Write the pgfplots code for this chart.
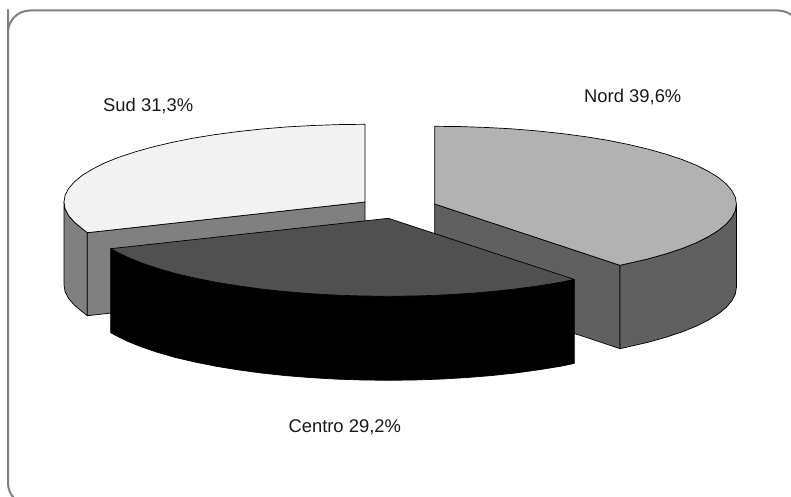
\documentclass[border=0pt]{standalone}
\usepackage{pgfplots}
\pgfplotsset{compat=1.18}
\usepackage{fontspec}
\setmainfont{Liberation Sans}
\definecolor{sudtop}{HTML}{F2F2F2}
\definecolor{sudwall}{HTML}{808080}
\definecolor{nordtop}{HTML}{B2B2B2}
\definecolor{nordwall}{HTML}{606060}
\definecolor{centrotop}{HTML}{505050}
\tikzset{lab/.style={anchor=base west, inner sep=0pt, font=\fontsize{18.4}{20}\selectfont, text=black!90}}
\begin{document}
\begin{tikzpicture}
\begin{axis}[
  width=791pt, height=497pt, scale only axis,
  xmin=0, xmax=791, ymin=0, ymax=497, y dir=reverse,
  hide axis, clip=true,
  every axis plot/.append style={mark=none, line width=0.7pt, line join=round}
]
% frame, runs off the right and bottom edges
\addplot[draw=sudwall, line width=2pt, rounded corners=22pt] coordinates {
  (8,32) (8,505) (800,505) (800,10.5) (8,10.5)
} -- cycle;

% Sud
\addplot[fill=sudwall, draw=black] coordinates {
  (64,202) (64,285) (65.1,291.8) (68.6,298.5) (74.3,305.1) (82.1,311.6) (87.3,315.7)
  (87.3,232.7) (82.1,228.6) (74.3,222.1) (68.6,215.5) (65.1,208.8)
} -- cycle;
\addplot[fill=sudwall, draw=black] coordinates {
  (87.3,232.7) (365,202) (365,285) (87.3,315.7)
} -- cycle;
\addplot[fill=sudtop, draw=black] coordinates {
  (365,124.3) (338.8,124.6) (312.7,125.5) (287.1,126.9) (262.1,129) (237.8,131.6)
  (214.5,134.7) (192.3,138.3) (171.5,142.5) (152.2,147.1) (134.4,152.1) (118.4,157.4)
  (104.3,163.1) (92.2,169.2) (82.1,175.4) (74.3,181.9) (68.6,188.5) (65.1,195.2) (64,202)
  (65.1,208.8) (68.6,215.5) (74.3,222.1) (82.1,228.6) (87.3,232.7) (365,202)
} -- cycle;

% Nord
\addplot[fill=nordwall, draw=black] coordinates {
  (434.7,204) (620,265.3) (620,348.7) (434.7,287)
} -- cycle;
\addplot[fill=nordwall, draw=black] coordinates {
  (620,265.3) (648,258.9) (665.8,253.9) (681.8,248.6) (696,242.9) (708.1,236.8) (718.2,230.6)
  (726.1,224.1) (731.8,217.5) (735.3,210.8) (736.4,204)
  (736.4,287.4) (735.3,294.2) (731.8,300.9) (726.1,307.5) (718.2,314) (708.1,320.2) (696,326.3)
  (681.8,332) (665.8,337.3) (648,342.3) (620,348.7)
} -- cycle;
\addplot[fill=nordtop, draw=black] coordinates {
  (434.7,126.3) (461,126.6) (487.1,127.5) (512.8,128.9) (537.9,131) (562.2,133.6) (585.6,136.7)
  (607.8,140.3) (628.6,144.5) (648,149.1) (665.8,154.1) (681.8,159.4) (696,165.1) (708.1,171.2)
  (718.2,177.4) (726.1,183.9) (731.8,190.5) (735.3,197.2) (736.4,204) (735.3,210.8) (731.8,217.5)
  (726.1,224.1) (718.2,230.6) (708.1,236.8) (696,242.9) (681.8,248.6) (665.8,253.9) (648,258.9)
  (620,265.3) (434.7,204)
} -- cycle;

% Centro
\addplot[fill=black, draw=black] coordinates {
  (110.7,248.7) (115.5,251.3) (127.6,257.3) (141.7,263) (157.7,268.4) (175.5,273.5) (194.8,278)
  (215.6,282.2) (237.8,285.8) (261.1,289) (285.4,291.6) (310.4,293.6) (336,295.1) (362.1,296)
  (388.3,296.3) (414.5,296) (440.6,295.1) (466.2,293.6) (491.2,291.6) (515.5,289) (538.8,285.8)
  (561,282.2) (574.3,279.4)
  (574.3,363.4) (561,366.2) (538.8,369.8) (515.5,373) (491.2,375.6) (466.2,377.6) (440.6,379.1)
  (414.5,380) (388.3,380.3) (362.1,380) (336,379.1) (310.4,377.6) (285.4,375.6) (261.1,373)
  (237.8,369.8) (215.6,366.2) (194.8,362) (175.5,357.5) (157.7,352.4) (141.7,347) (127.6,341.3)
  (115.5,335.3) (110.7,332.7)
} -- cycle;
\addplot[fill=centrotop, draw=black] coordinates {
  (388.3,218.3) (574.3,279.4) (561,282.2) (538.8,285.8) (515.5,289) (491.2,291.6) (466.2,293.6)
  (440.6,295.1) (414.5,296) (388.3,296.3) (362.1,296) (336,295.1) (310.4,293.6) (285.4,291.6)
  (261.1,289) (237.8,285.8) (215.6,282.2) (194.8,278) (175.5,273.5) (157.7,268.4) (141.7,263)
  (127.6,257.3) (115.5,251.3) (110.7,248.7)
} -- cycle;

\node[lab] at (axis cs:103,111.7) {Sud 31,3\%};
\node[lab] at (axis cs:584,102.3) {Nord 39,6\%};
\node[lab] at (axis cs:288.3,432.7) {Centro 29,2\%};
\end{axis}
\pgfresetboundingbox
\useasboundingbox (0,0) rectangle (791pt,497pt);
\end{tikzpicture}
\end{document}
